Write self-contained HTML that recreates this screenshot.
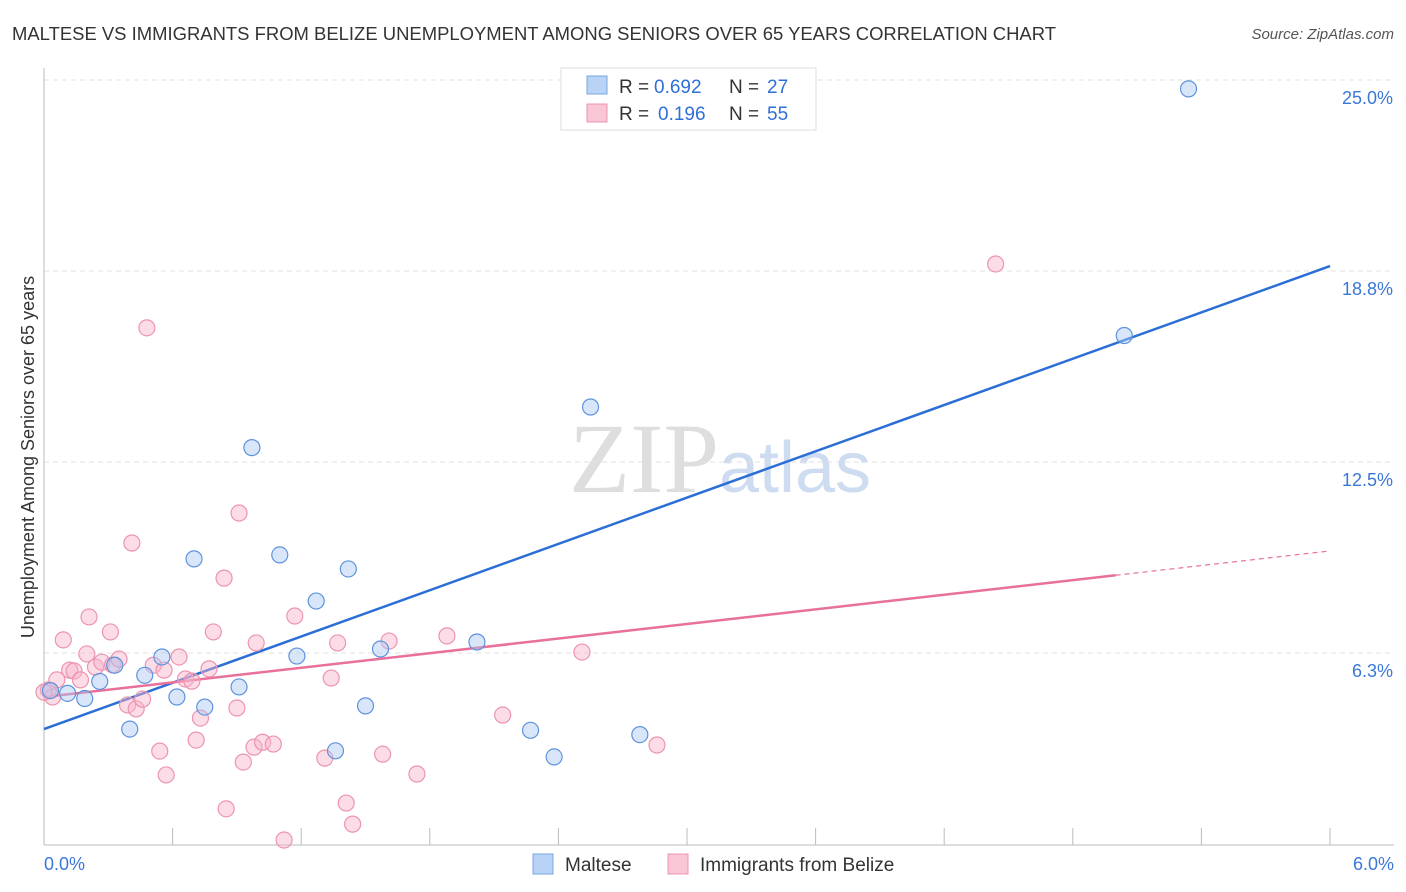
<!DOCTYPE html>
<html><head><meta charset="utf-8"><style>
body{margin:0;background:#fff;font-family:"Liberation Sans",sans-serif;}
svg{display:block}
</style></head><body>
<svg id="chart" width="1406" height="892">
<text x="12" y="40" font-size="18" fill="#333" textLength="1044" lengthAdjust="spacingAndGlyphs">MALTESE VS IMMIGRANTS FROM BELIZE UNEMPLOYMENT AMONG SENIORS OVER 65 YEARS CORRELATION CHART</text>
<text x="1394" y="39" font-size="15" fill="#555" font-style="italic" text-anchor="end">Source: ZipAtlas.com</text>
<text x="720" y="492" font-size="100" text-anchor="middle" font-family="Liberation Serif"><tspan fill="#dedede">ZIP</tspan><tspan fill="#cddcf0" font-family="Liberation Sans" font-size="72">atlas</tspan></text>
<text transform="translate(34,457) rotate(-90)" font-size="18" fill="#333" text-anchor="middle">Unemployment Among Seniors over 65 years</text>
<g id="grid"></g><g id="axes"></g><g id="lines"></g><g id="pts"></g>
<g>
<rect x="561" y="68" width="255" height="62" fill="#fff" stroke="#ddd"/>
<rect x="587" y="76" width="20" height="18" fill="#b8d3f5" stroke="#7aa7e0"/>
<rect x="587" y="104" width="20" height="18" fill="#f9c6d6" stroke="#ec94b0"/>
<text x="619" y="93" font-size="19" fill="#333">R =</text>
<text x="654" y="93" font-size="19" fill="#2f6fd8">0.692</text>
<text x="729" y="93" font-size="19" fill="#333">N =</text>
<text x="767" y="93" font-size="19" fill="#2f6fd8">27</text>
<text x="619" y="120" font-size="19" fill="#333">R =</text>
<text x="658" y="120" font-size="19" fill="#2f6fd8">0.196</text>
<text x="729" y="120" font-size="19" fill="#333">N =</text>
<text x="767" y="120" font-size="19" fill="#2f6fd8">55</text>
</g>
<g>
<rect x="533" y="854" width="20" height="20" fill="#b8d3f5" stroke="#7aa7e0"/>
<text x="565" y="871" font-size="19" fill="#333">Maltese</text>
<rect x="668" y="854" width="20" height="20" fill="#f9c6d6" stroke="#ec94b0"/>
<text x="700" y="871" font-size="19" fill="#333">Immigrants from Belize</text>
</g>
</svg>
<script>
const yTicks=[6.25,12.5,18.75,25];
const yTickLabels=["6.3%","12.5%","18.8%","25.0%"];
const xTickLabels=["0.0%","6.0%"];
const malteseX=[0.03,0.11,0.19,0.26,0.4,0.47,0.55,0.62,0.7,0.75,0.91,0.97,1.1,1.18,1.27,1.36,1.42,1.5,1.57,2.02,2.27,2.38,2.55,2.78,5.04,5.34,0.33];
const malteseY=[5.02,4.93,4.76,5.32,3.76,5.52,6.12,4.81,9.33,4.48,5.14,12.97,9.46,6.15,7.95,3.05,9.0,4.52,6.38,6.61,3.72,2.85,14.3,3.58,16.64,24.71,5.85];
const belizeX=[0.02,0.04,0.06,0.09,0.12,0.14,0.17,0.2,0.21,0.24,0.27,0.31,0.32,0.35,0.39,0.41,0.43,0.46,0.48,0.51,0.54,0.56,0.57,0.63,0.66,0.69,0.71,0.73,0.77,0.79,0.84,0.85,0.9,0.91,0.93,0.98,0.99,1.02,1.07,1.12,1.17,1.31,1.34,1.37,1.41,1.44,1.58,1.61,1.74,1.88,2.14,2.51,2.86,4.44,0.0];
const belizeY=[5.04,4.81,5.37,6.68,5.69,5.66,5.37,6.22,7.43,5.79,5.95,6.94,5.86,6.05,4.55,9.85,4.42,4.74,16.89,5.85,3.04,5.69,2.26,6.12,5.4,5.33,3.4,4.12,5.73,6.94,8.7,1.15,4.45,10.83,2.68,3.17,6.58,3.33,3.27,0.13,7.46,2.81,5.43,6.58,1.34,0.65,2.94,6.64,2.29,6.81,4.22,6.28,3.24,18.98,4.97];
const blueLine=[3.76,18.91];
const pinkLine=[4.81,9.59];
const pinkSolidEnd=5.0;
const X=v=>44+v/6*1286, Y=v=>844-v*30.56;
const NS="http://www.w3.org/2000/svg";
function mk(p,t,a){const e=document.createElementNS(NS,t);for(const k in a)e.setAttribute(k,a[k]);document.getElementById(p).appendChild(e);return e;}
yTicks.forEach((t,i)=>{
 const g=mk('grid','line',{x1:44,x2:1394,y1:Y(t),y2:Y(t),stroke:'#e2e2e2','stroke-dasharray':'5,4'});
 
 
 const l=mk('axes','text',{x:1393,y:Y(t)+24,'font-size':18,fill:'#3a78d8','text-anchor':'end'});l.textContent=yTickLabels[i];
 
 
});
const ax=mk('axes','line',{x1:44,x2:44,y1:68,y2:845,stroke:'#bbb'});


const bx=mk('axes','line',{x1:44,x2:1394,y1:845,y2:845,stroke:'#bbb'});


for(let i=1;i<=10;i++){const t=mk('axes','line',{x1:X(i*0.6),x2:X(i*0.6),y1:828,y2:845,stroke:'#bbb'});
 
 }
[[44,'start',0],[1394,'end',1]].forEach(([x,a,i])=>{const t=mk('axes','text',{x:x,y:870,'font-size':18,fill:'#3a78d8','text-anchor':a});t.textContent=xTickLabels[i];
 
 });
function pts(xs,ys,fill,stroke,name){xs.forEach((x,i)=>{const c=mk('pts','circle',{cx:X(x),cy:Y(ys[i]),r:8,fill:fill,stroke:stroke,'stroke-width':1.2});
 
 });}
pts(belizeX,belizeY,'rgba(248,180,202,0.45)','#ec94b0','belize-point');
pts(malteseX,malteseY,'rgba(170,200,242,0.45)','#5d93dd','maltese-point');
const bl=mk('lines','line',{x1:X(0),y1:Y(blueLine[0]),x2:X(6),y2:Y(blueLine[1]),stroke:'#2b6fd6','stroke-width':2.5});


const pm=v=>pinkLine[0]+(pinkLine[1]-pinkLine[0])*v/6;
const pl=mk('lines','line',{x1:X(0),y1:Y(pm(0)),x2:X(pinkSolidEnd),y2:Y(pm(pinkSolidEnd)),stroke:'#e8709a','stroke-width':2.5});


const pd=mk('lines','line',{x1:X(pinkSolidEnd),y1:Y(pm(pinkSolidEnd)),x2:X(6),y2:Y(pm(6)),stroke:'#e8709a','stroke-width':1.2,'stroke-dasharray':'5,4'});


</script>
</body></html>
